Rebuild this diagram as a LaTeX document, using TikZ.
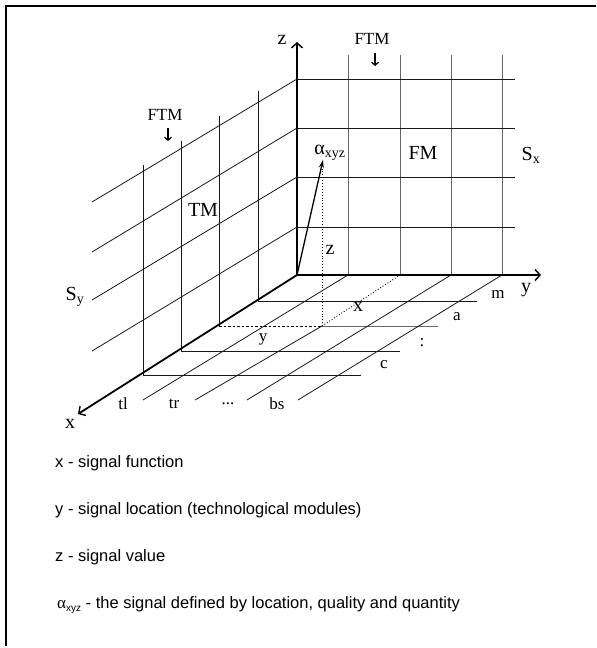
\documentclass[tikz,border=0pt]{standalone}
\usepackage{fontspec}
\setmainfont{Liberation Serif}
\newfontfamily\legendfont{Liberation Sans}
\usetikzlibrary{arrows.meta}
\begin{document}
\begin{tikzpicture}[x=1pt,y=-1pt,
  thinline/.style={line width=0.8pt, black!90},
  grayline/.style={line width=0.9pt, black!60},
  axisline/.style={line width=1.8pt, -{Straight Barb[length=5pt,width=11pt,line width=1.4pt]}},
  smallarrow/.style={line width=1.3pt, -{Straight Barb[length=3pt,width=7pt,line width=1.2pt]}},
  biglbl/.style={inner sep=0pt, font=\fontsize{20}{22}\selectfont},
  ftmlbl/.style={inner sep=0pt, font=\fontsize{17}{19}\selectfont},
  smalllbl/.style={inner sep=0pt, font=\fontsize{17}{19}\selectfont},
  legendtxt/.style={inner sep=0pt, anchor=base west, font=\legendfont\fontsize{16.5}{18}\selectfont},
]
\useasboundingbox (0,0) rectangle (597,648);
% frame
\coordinate (frTR) at (596,6);
\coordinate (frTL) at (6,6);
\coordinate (frBL) at (6,646);
\draw[line width=2pt] (frTR) -- (frTL) -- (frBL);

% key points
\coordinate (O) at (297,275);
\coordinate (Zend) at (297,42);
\coordinate (Yend) at (541,275);
\coordinate (Xend) at (78,414);

% FM grid (y-z plane)
\foreach \xx in {348,400,451,502} \draw[grayline] (\xx,55) -- (\xx,275);
\foreach \yy in {79,128,177,227} \draw[thinline] (297,\yy) -- (515,\yy);

% TM grid (x-z plane)
\foreach \yy/\ye in {79/202,128/252,177/300,227/351} \draw[thinline] (297,\yy) -- (92,\ye);
\foreach \xx/\tt/\bb in {258/91/301,219/116/326,181/141/351,143/165/375} \draw[thinline] (\xx,\tt) -- (\xx,\bb);

% floor grid (x-y plane)
\foreach \xx/\yy/\xe in {258/301/477,181/351/400,143/375/361} \draw[thinline] (\xx,\yy) -- (\xe,\yy);
\coordinate (P) at (322,326);
\coordinate (Ptop) at (322,168);
\coordinate (Pleft) at (219,326);
\coordinate (Pright) at (438,326);
\coordinate (Py) at (400,275);
\draw[grayline] (P) -- (Pright);
\draw[line width=0.8pt, dash pattern=on 2.5pt off 2pt] (Pleft) -- (P);
\foreach \xs/\xe in {348/143,451/247,502/298} \draw[thinline] (\xs,275) -- (\xe,400);
\draw[thinline] (P) -- (195,400);
\draw[line width=0.9pt, dotted] (P) -- (Py);
\draw[line width=0.9pt, dotted] (P) -- (Ptop);

% signal vector
\coordinate (A) at (323,160);
\draw[line width=1.3pt, -{Stealth[length=8pt,width=5pt]}] (O) -- (A);

% axes
\draw[axisline] (O) -- (Zend);
\draw[axisline] (O) -- (Yend);
\draw[axisline] (O) -- (Xend);

% FTM arrows
\node[ftmlbl] (ftmtop) at (372,39) {FTM};
\node[ftmlbl] (ftmleft) at (165,115) {FTM};
\coordinate (fa1) at (375,53);
\coordinate (fa2) at (375,66);
\coordinate (fb1) at (168,128);
\coordinate (fb2) at (168,141);
\draw[smallarrow] (fa1) -- (fa2);
\draw[smallarrow] (fb1) -- (fb2);

% labels
\node[biglbl] (zlab) at (282,40) {z};
\node[biglbl] (tm) at (203,210) {TM};
\node[biglbl] (fm) at (423,153) {FM};
\node[biglbl] (alab) at (330,153) {α\textsubscript{xyz}};
\node[biglbl] (sx) at (531,155) {S\textsubscript{x}};
\node[biglbl] (sy) at (75,297) {S\textsubscript{y}};
\node[biglbl] (zmid) at (330,250) {z};
\node[biglbl] (xmid) at (358,307) {x};
\node[smalllbl] (ymid) at (263,339) {y};
\node[smalllbl] (mlab) at (498,294) {m};
\node[biglbl] (ylab) at (526,290) {y};
\node[smalllbl] (alab2) at (457,317) {a};
\node[smalllbl] (colon) at (422,343) {:};
\node[smalllbl] (clab) at (384,365) {c};
\node[smalllbl] (tl) at (123,404) {tl};
\node[smalllbl] (tr) at (174,404) {tr};
\node[smalllbl] (dots) at (228,404) {...};
\node[smalllbl] (bs) at (277,404) {bs};
\node[biglbl] (xlab) at (70,424) {x};

% legend
\node[legendtxt] (l1) at (55,467) {x - signal function};
\node[legendtxt] (l2) at (55,514) {y - signal location (technological modules)};
\node[legendtxt] (l3) at (55,561) {z - signal value};
\node[legendtxt] (l4) at (57,608) {{\rmfamily\fontsize{17}{19}\selectfont α}\raisebox{-3pt}{\fontsize{10}{12}\selectfont xyz} - the signal defined by location, quality and quantity};
\end{tikzpicture}
\end{document}
